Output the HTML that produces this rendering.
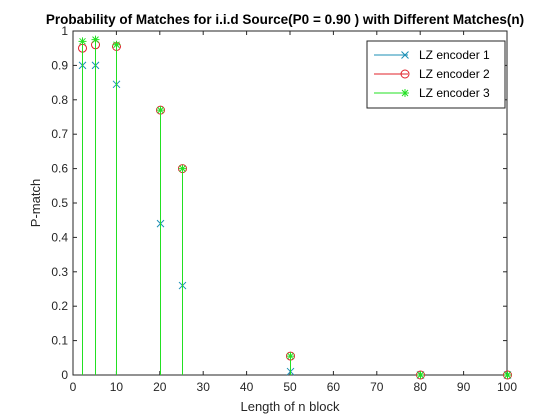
<!DOCTYPE html>
<html><head><meta charset="utf-8"><style>
body{margin:0;background:#fff;}
svg{display:block;font-family:"Liberation Sans",Arial,sans-serif;}
</style></head><body>
<svg id="chart" width="560" height="420" viewBox="0 0 560 420">
<rect width="560" height="420" fill="#fff"/>
<g id="plot"></g>
</svg>
<script>
const nValues=[2,5,10,20,25,50,80,100];
const lz1=[0.90,0.90,0.845,0.44,0.26,0.01,0,0];
const lz2=[0.95,0.96,0.955,0.77,0.60,0.055,0,0];
const lz3=[0.97,0.975,0.96,0.77,0.60,0.055,0,0];
const xTicks=[0,10,20,30,40,50,60,70,80,90,100];
const yTicks=[0,0.1,0.2,0.3,0.4,0.5,0.6,0.7,0.8,0.9,1];
const L=73,R=507,T=31,B=375;
const sx=v=>L+(v/100)*(R-L), sy=v=>B-v*(B-T);
const NS='http://www.w3.org/2000/svg';
const g=document.getElementById('plot');
function el(tag,attrs,parent){const e=document.createElementNS(NS,tag);for(const k in attrs)e.setAttribute(k,attrs[k]);(parent||g).appendChild(e);return e;}
const box=el('rect',{x:L,y:T,width:R-L,height:B-T,fill:'#fff',stroke:'#262626','stroke-width':1});


xTicks.forEach(t=>{const x=sx(t);
 el('line',{x1:x,y1:B,x2:x,y2:B-4,stroke:'#262626'});el('line',{x1:x,y1:T,x2:x,y2:T+4,stroke:'#262626'});
 const tx=el('text',{x:x,y:B+16,'font-size':12,'text-anchor':'middle',fill:'#262626'});tx.textContent=t;
 
 });
yTicks.forEach(t=>{const y=sy(t);
 el('line',{x1:L,y1:y,x2:L+4,y2:y,stroke:'#262626'});el('line',{x1:R,y1:y,x2:R-4,y2:y,stroke:'#262626'});
 const tx=el('text',{x:L-5,y:y+4,'font-size':12,'text-anchor':'end',fill:'#262626'});tx.textContent=t;
 
 });
const C1='#1b8fb5',C2='#e0202a',C3='#22e022';
function xm(x,y,c,p){el('path',{d:`M${x-3.5} ${y-3.5}L${x+3.5} ${y+3.5}M${x-3.5} ${y+3.5}L${x+3.5} ${y-3.5}`,stroke:c,'stroke-width':1,fill:'none'},p);}
function om(x,y,c,p){el('circle',{cx:x,cy:y,r:4,stroke:c,fill:'none','stroke-width':1},p);}
function sm(x,y,c,p){el('path',{d:`M${x-4} ${y}L${x+4} ${y}M${x} ${y-4}L${x} ${y+4}M${x-3} ${y-3}L${x+3} ${y+3}M${x-3} ${y+3}L${x+3} ${y-3}`,stroke:c,'stroke-width':1,fill:'none'},p);}
[[lz1,C1,xm,'series-lz1'],[lz2,C2,om,'series-lz2'],[lz3,C3,sm,'series-lz3']].forEach(([d,c,m,name])=>{
 const sg=el('g',{});
 
 
 d.forEach((v,i)=>{const x=Math.round(sx(nValues[i]))+0.5,y=sy(v);el('line',{x1:x,y1:sy(0),x2:x,y2:y,stroke:c,'stroke-width':1,'shape-rendering':'crispEdges'},sg);m(x,y,c,sg);});
});
const ttl=el('text',{x:285,y:24,'font-size':13.5,'font-weight':'bold','text-anchor':'middle',fill:'#000'});
ttl.textContent='Probability of Matches for i.i.d Source(P0 = 0.90 ) with Different Matches(n)';


const xl=el('text',{x:290,y:411,'font-size':13,'text-anchor':'middle',fill:'#262626'});xl.textContent='Length of n block';


const yl=el('text',{x:0,y:0,'font-size':13,'text-anchor':'middle',fill:'#262626',transform:'translate(40,203) rotate(-90)'});yl.textContent='P-match';


const lg=el('g',{});


el('rect',{x:367,y:41,width:138,height:67,fill:'#fff',stroke:'#262626'},lg);
[['LZ encoder 1',C1,xm],['LZ encoder 2',C2,om],['LZ encoder 3',C3,sm]].forEach(([t,c,m],i)=>{
 const y=55+i*19;
 el('line',{x1:374,y1:y,x2:408,y2:y,stroke:c},lg);m(405,y,c,lg);
 const tx=el('text',{x:419,y:y+4,'font-size':12,fill:'#000'},lg);tx.textContent=t;
 
 
});
</script>
</body></html>
